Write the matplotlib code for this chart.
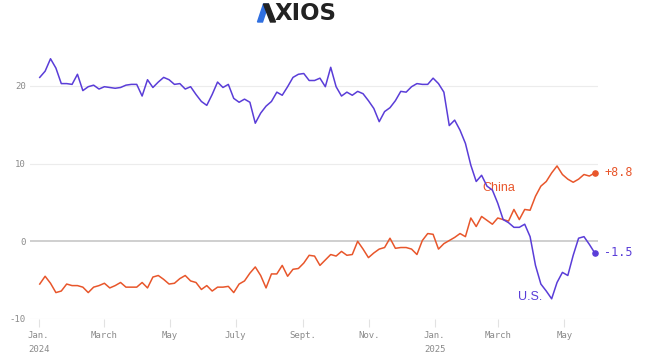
import numpy as np
import pandas as pd
import matplotlib
matplotlib.use("Agg")
import matplotlib.pyplot as plt
import matplotlib.dates as mdates
from matplotlib.patches import Polygon

# roughly 5-day samples
dates = pd.date_range("2024-01-02", "2025-05-29", periods=104)

us = [21.1, 21.9, 23.5, 22.3, 20.3, 20.3, 20.2, 21.5, 19.4, 19.9,
      20.1, 19.6, 19.9, 19.8, 19.7, 19.8, 20.1, 20.2, 20.2, 18.7,
      20.8, 19.8, 20.5, 21.1, 20.8, 20.2, 20.3, 19.6, 19.9, 18.9,
      18.0, 17.5, 18.9, 20.5, 19.8, 20.2, 18.4, 17.9, 18.3, 17.9,
      15.2, 16.5, 17.4, 18.0, 19.2, 18.8, 19.9, 21.1, 21.5, 21.6,
      20.7, 20.7, 21.0, 19.9, 22.4, 19.9, 18.7, 19.2, 18.8, 19.3,
      19.0, 18.1, 17.1, 15.4, 16.7, 17.2, 18.1, 19.3, 19.2, 19.9,
      20.3, 20.2, 20.2, 21.0, 20.3, 19.2, 14.9, 15.6, 14.3, 12.6,
      9.8, 7.7, 8.5, 7.1, 6.6, 4.9, 2.8, 2.4, 1.8, 1.8,
      2.2, 0.6, -3.1, -5.5, -6.4, -7.4, -5.3, -4.0, -4.4, -1.8,
      0.4, 0.6, -0.4, -1.5]

china = [-5.5, -4.5, -5.4, -6.6, -6.4, -5.5, -5.7, -5.7, -5.9, -6.6,
         -5.9, -5.7, -5.4, -6.0, -5.7, -5.3, -5.9, -5.9, -5.9, -5.3,
         -6.0, -4.6, -4.4, -4.9, -5.5, -5.4, -4.8, -4.4, -5.1, -5.3,
         -6.2, -5.7, -6.4, -5.9, -5.9, -5.8, -6.6, -5.5, -5.1, -4.1,
         -3.3, -4.4, -6.0, -4.2, -4.2, -3.1, -4.5, -3.6, -3.5, -2.8,
         -1.8, -1.9, -3.1, -2.4, -1.7, -1.9, -1.3, -1.8, -1.7, 0.0,
         -1.0, -2.1, -1.5, -1.0, -0.8, 0.4, -0.9, -0.8, -0.8, -1.0,
         -1.7, 0.1, 1.0, 0.9, -1.0, -0.3, 0.1, 0.5, 1.0, 0.6,
         3.0, 1.9, 3.2, 2.7, 2.2, 3.0, 2.8, 2.6, 4.1, 2.8,
         4.1, 4.0, 5.8, 7.1, 7.7, 8.8, 9.7, 8.6, 8.0, 7.6,
         8.0, 8.6, 8.4, 8.8]

tick_dates = pd.to_datetime(["2024-01-01", "2024-03-01", "2024-05-01", "2024-07-01",
                             "2024-09-01", "2024-11-01", "2025-01-01", "2025-03-01",
                             "2025-05-01"])
tick_labels = ["Jan.\n2024", "March", "May", "July", "Sept.", "Nov.",
               "Jan.\n2025", "March", "May"]
yticks = [-10, 0, 10, 20]

US_COLOR = "#5a3dd8"
CN_COLOR = "#e8562b"
MONO = "DejaVu Sans Mono"
SANS = "Liberation Sans"

fig = plt.figure(figsize=(6.5, 3.58), dpi=100)
ax = fig.add_axes([30 / 650, 1 - 319 / 358, 568 / 650, 289 / 358])

ax.plot(dates, china, color=CN_COLOR, lw=1.1, zorder=3)
ax.plot(dates, us, color=US_COLOR, lw=1.1, zorder=4)
ax.scatter([dates[-1]], [china[-1]], s=14, color=CN_COLOR, zorder=5)
ax.scatter([dates[-1]], [us[-1]], s=14, color=US_COLOR, zorder=5)

ax.set_ylim(-10, 27.2)
ax.set_xlim(pd.Timestamp("2023-12-24"), pd.Timestamp("2025-06-01"))

for y in yticks:
    if y == 0:
        ax.axhline(y, color="#cfcfcf", lw=1.4, zorder=1)
    else:
        ax.axhline(y, color="#ececec", lw=0.8, zorder=1)

for s in ax.spines.values():
    s.set_visible(False)

ax.set_yticks(yticks)
ax.set_yticklabels([str(v) for v in yticks], fontfamily=MONO, fontsize=6.5, color="#8a8a8a")
ax.tick_params(axis="y", length=0, pad=3)

ax.set_xticks(tick_dates)
ax.set_xticklabels(tick_labels, fontfamily=MONO, fontsize=6.5, color="#8a8a8a",
                   linespacing=1.6)
ax.tick_params(axis="x", length=6, color="#e2e2e2", width=0.8, pad=3)
for lab in ax.get_xticklabels():
    lab.set_horizontalalignment("center")

ax.text(pd.Timestamp("2025-03-01"), 6.9, "China", color=CN_COLOR, fontsize=9,
        fontfamily=SANS, ha="center", va="center")
ax.text(pd.Timestamp("2025-03-30"), -7.2, "U.S.", color=US_COLOR, fontsize=9,
        fontfamily=SANS, ha="center", va="center")
ax.annotate("+8.8", (dates[-1], china[-1]), xytext=(7, 0), textcoords="offset points",
            color=CN_COLOR, fontsize=8.5, fontfamily=MONO, va="center", ha="left")
ax.annotate("-1.5", (dates[-1], us[-1]), xytext=(7, 0), textcoords="offset points",
            color=US_COLOR, fontsize=8.5, fontfamily=MONO, va="center", ha="left")

# Axios logo
W, H = 650, 358
def fp(x, y):
    return (x / W, 1 - y / H)

blue = Polygon([fp(257.5, 22), fp(263.5, 4), fp(268.5, 4), fp(262.5, 22)],
               closed=True, transform=fig.transFigure, color="#2f6fe0")
dark = Polygon([fp(263.5, 4), fp(268.5, 4), fp(275.5, 22), fp(270.5, 22)],
               closed=True, transform=fig.transFigure, color="#222222")
fig.patches.extend([blue, dark])
fig.text(274.5 / W, 1 - 13 / H, "XIOS", fontsize=16.5, fontweight="bold",
         fontfamily="DejaVu Sans", color="#222222", ha="left", va="center")

fig.savefig("out.png", dpi=100)
